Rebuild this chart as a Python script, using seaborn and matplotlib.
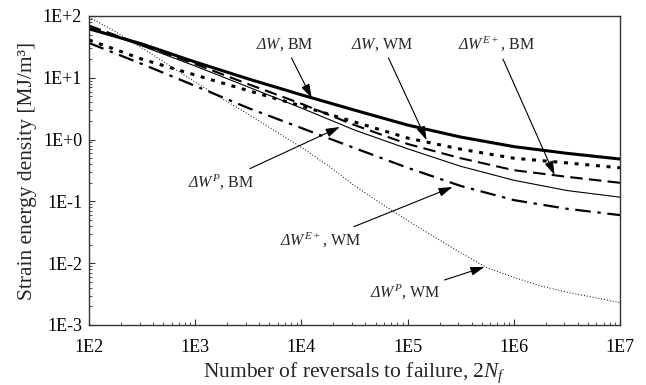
import matplotlib
matplotlib.use("Agg")
import matplotlib.pyplot as plt
import matplotlib.ticker as mticker
import numpy as np
import pandas as pd
import seaborn as sns

# ---- data ----
reversals = [1e2, 3.16e2, 1e3, 3.16e3, 1e4, 3.16e4, 1e5, 3.16e5, 1e6, 3.16e6, 1e7]
dW_BM    = [62, 35.2, 18.0, 9.6, 5.3, 3.0, 1.72, 1.10, 0.77, 0.60, 0.485]
dW_WM    = [41, 20, 11.1, 6.2, 3.5, 1.93, 1.06, 0.70, 0.50, 0.42, 0.35]
dWE_BM   = [70, 34, 16.7, 7.9, 3.8, 1.72, 0.85, 0.50, 0.32, 0.25, 0.20]
dWP_BM   = [66, 32.7, 15.5, 7.1, 3.24, 1.43, 0.71, 0.37, 0.22, 0.15, 0.117]
dWE_WM   = [36.6, 16.7, 7.4, 3.24, 1.54, 0.73, 0.35, 0.178, 0.105, 0.076, 0.060]

reversals_fine = [1e2, 1.78e2, 3.16e2, 5.62e2, 1e3, 1.78e3, 3.16e3, 5.62e3, 1e4, 1.78e4,
                  3.16e4, 5.62e4, 1e5, 1.78e5, 3.16e5, 5.62e5, 1e6, 1.78e6, 3.16e6,
                  5.62e6, 1e7]
dWP_WM   = [96, 55.7, 30.4, 16.1, 8.55, 4.65, 2.57, 1.39, 0.75, 0.38, 0.18, 0.093,
            0.049, 0.0267, 0.0148, 0.0084, 0.0059, 0.0043, 0.0034, 0.0028, 0.0023]

series_names = ["dW_BM", "dW_WM", "dWE_BM", "dWP_BM", "dWE_WM", "dWP_WM"]
series_x = [reversals] * 5 + [reversals_fine]
series_vals = [dW_BM, dW_WM, dWE_BM, dWP_BM, dWE_WM, dWP_WM]

xtick_vals = [1e2, 1e3, 1e4, 1e5, 1e6, 1e7]
xtick_labels = ["1E2", "1E3", "1E4", "1E5", "1E6", "1E7"]
ytick_vals = [1e-3, 1e-2, 1e-1, 1e0, 1e1, 1e2]
ytick_labels = ["1E-3", "1E-2", "1E-1", "1E+0", "1E+1", "1E+2"]

df = pd.DataFrame(
    [(n, x, v) for n, xs, vals in zip(series_names, series_x, series_vals)
     for x, v in zip(xs, vals)],
    columns=["series", "N", "W"],
)

# ---- styling ----
sns.set_style("ticks")
plt.rcParams["font.family"] = ["Liberation Serif", "DejaVu Serif"]
plt.rcParams["mathtext.fontset"] = "custom"
plt.rcParams["mathtext.rm"] = "Liberation Serif:italic"
plt.rcParams["mathtext.it"] = "Liberation Serif:italic"
plt.rcParams["mathtext.bf"] = "Liberation Serif:bold"

styles = {
    "dW_BM":  dict(lw=2.2, ls="-"),
    "dW_WM":  dict(lw=2.2, ls=(0, (1.3, 2.2))),
    "dWE_BM": dict(lw=1.5, ls=(0, (6, 3))),
    "dWP_BM": dict(lw=0.8, ls="-"),
    "dWE_WM": dict(lw=1.6, ls=(0, (7, 3, 1.5, 3))),
    "dWP_WM": dict(lw=0.7, ls=(0, (1, 2))),
}

fig = plt.figure(figsize=(6.46, 3.85), dpi=100)
ax = fig.add_axes([89 / 646, 1 - 325 / 385, (620 - 89) / 646, (325 - 16) / 385])

for name in series_names:
    sub = df[df["series"] == name]
    sns.lineplot(data=sub, x="N", y="W", ax=ax, color="black",
                 linewidth=styles[name]["lw"], linestyle=styles[name]["ls"],
                 legend=False)

ax.set_xscale("log")
ax.set_yscale("log")
ax.set_xlim(1e2, 1e7)
ax.set_ylim(1e-3, 1e2)

ax.xaxis.set_major_locator(mticker.FixedLocator(xtick_vals))
ax.xaxis.set_major_formatter(mticker.FixedFormatter(xtick_labels))
ax.yaxis.set_major_locator(mticker.FixedLocator(ytick_vals))
ax.yaxis.set_major_formatter(mticker.FixedFormatter(ytick_labels))
ax.xaxis.set_minor_locator(mticker.LogLocator(base=10, subs=np.arange(2, 10)))
ax.yaxis.set_minor_locator(mticker.LogLocator(base=10, subs=np.arange(2, 10)))
ax.xaxis.set_minor_formatter(mticker.NullFormatter())
ax.yaxis.set_minor_formatter(mticker.NullFormatter())

ax.tick_params(which="major", direction="in", length=4, width=0.8, labelsize=13,
               colors="#333333", labelcolor="black", top=False, right=False, pad=5)
ax.tick_params(axis="x", which="major", pad=10)
ax.tick_params(which="minor", direction="in", length=2.5, width=0.6,
               colors="#333333", top=False, right=False)
for sp in ax.spines.values():
    sp.set_visible(True)
    sp.set_linewidth(1.0)
    sp.set_color("#333333")

ax.set_xlabel("Number of reversals to failure, 2$N_f$", fontsize=15.5, labelpad=3)
ax.set_ylabel("Strain energy density [MJ/m³]", fontsize=15.5, labelpad=4)

arrow = dict(arrowstyle="-|>,head_length=0.7,head_width=0.22", color="black", lw=0.8,
             mutation_scale=12, shrinkA=1, shrinkB=0)
fs = 11.5
annots = [
    (r"$\Delta W$, BM",      (1.25e4, 4.7),  (7.0e3, 34.0)),
    (r"$\Delta W$, WM",      (1.51e5, 0.98), (5.8e4, 34.0)),
    (r"$\Delta W^{E+}$, BM", (2.42e6, 0.267), (6.9e5, 34.0)),
    (r"$\Delta W^{P}$, BM",  (2.3e4, 1.6),   (1.75e3, 0.206)),
    (r"$\Delta W^{E+}$, WM", (2.65e5, 0.171), (1.52e4, 0.0237)),
    (r"$\Delta W^{P}$, WM",  (5.3e5, 0.0087), (9.4e4, 0.0033)),
]
for txt, xy, xytext in annots:
    ax.annotate(txt, xy=xy, xytext=xytext, xycoords="data", textcoords="data",
                fontsize=fs, ha="center", va="center", arrowprops=arrow)

fig.savefig("out.png", dpi=100)
